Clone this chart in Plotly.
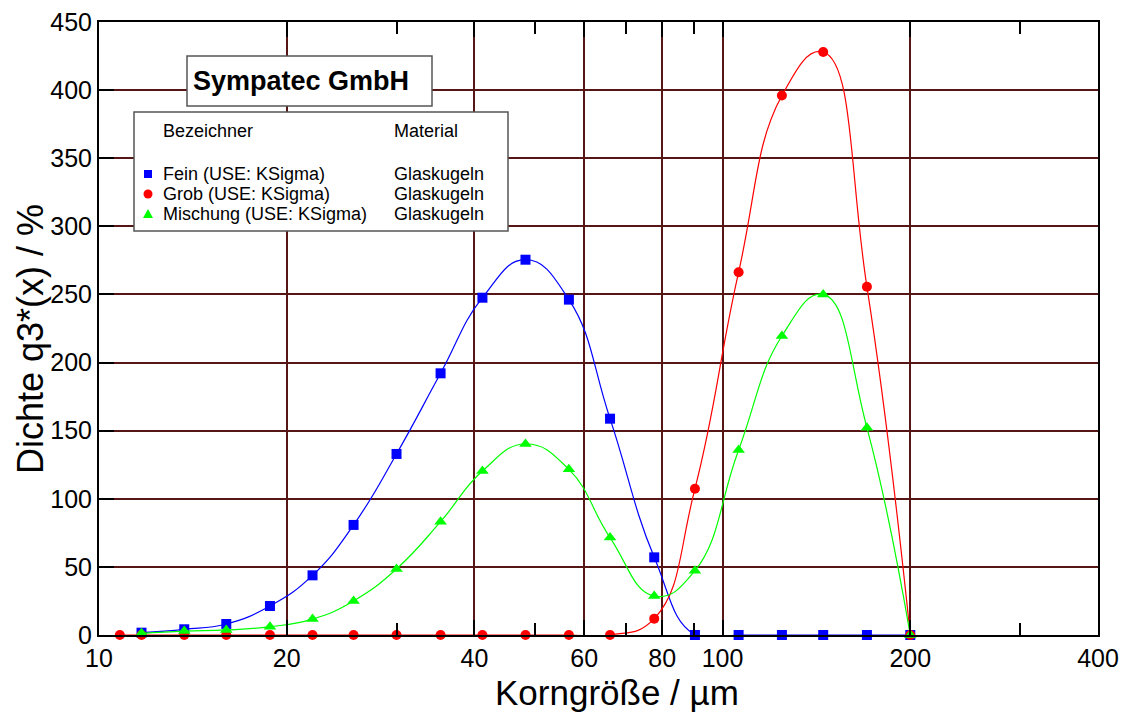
import plotly.graph_objects as go

# Particle size (µm) of the measuring points
size_um = [11.7, 13.7, 16.0, 18.8, 22.0, 25.6, 30.0, 35.3, 41.2, 48.3,
           56.7, 66.0, 77.7, 90.3, 106.1, 124.5, 145.0, 170.4, 200.0]
size_grob = [10.8, 11.7, 13.7, 16.0, 18.8, 22.0, 25.6, 30.0, 35.3, 41.2, 48.3,
             56.7, 66.0, 77.7, 90.3, 106.1, 124.5, 145.0, 170.4, 200.0]

# Density q3*(x) in %
fein = [1.7, 4.2, 8.1, 21.3, 43.8, 80.8, 132.9, 192.1, 247.6, 275.5,
        246.2, 158.8, 57.0, 0, 0, 0, 0, 0, 0]
grob = [0, 0, 0, 0, 0, 0, 0, 0, 0, 0, 0,
        0, 0, 12.0, 107.4, 266.3, 396.0, 428.0, 255.7, 0]
mischung = [1.2, 2.9, 3.7, 6.1, 11.7, 25.0, 48.5, 83.2, 120.4, 140.2,
            121.6, 71.5, 28.6, 47.2, 135.8, 219.5, 250.0, 152.2, 0]

x_tickvals = [10, 20, 40, 60, 80, 100, 200, 400]
x_ticktext = ["10", "20", "40", "60", "80", "100", "200", "400"]
x_minor = [30, 50, 70, 90, 300]
y_tickvals = [0, 50, 100, 150, 200, 250, 300, 350, 400, 450]

series_names = ["Fein (USE: KSigma)", "Grob (USE: KSigma)", "Mischung (USE: KSigma)"]
material = ["Glaskugeln", "Glaskugeln", "Glaskugeln"]

BLUE, RED, GREEN = "#0000ff", "#ff0000", "#00ff00"
GRID = "#561616"
FONT = "Liberation Sans, Arial, sans-serif"
SMOOTH = 1.3

fig = go.Figure()
fig.add_trace(go.Scatter(x=size_um, y=fein, mode="lines+markers",
                         line=dict(color=BLUE, width=1.2, shape="spline", smoothing=SMOOTH),
                         marker=dict(symbol="square", size=10, color=BLUE),
                         cliponaxis=False, showlegend=False))
fig.add_trace(go.Scatter(x=size_grob, y=grob, mode="lines+markers",
                         line=dict(color=RED, width=1.2, shape="spline", smoothing=SMOOTH),
                         marker=dict(symbol="circle", size=10, color=RED),
                         cliponaxis=False, showlegend=False))
fig.add_trace(go.Scatter(x=size_um, y=mischung, mode="lines+markers",
                         line=dict(color=GREEN, width=1.2, shape="spline", smoothing=SMOOTH),
                         marker=dict(symbol="triangle-up", size=11, color=GREEN),
                         cliponaxis=False, showlegend=False))

W, H = 1128, 717
PL, PT, PR, PB = 99, 22, 1098, 635   # plot area in page pixels
L, T = PL, PT
R = W - PR
B = H - PB
PW, PH = PR - PL, PB - PT


def px(x):
    return (x - PL) / PW


def py(y):
    return (PB - y) / PH


shapes = []
annotations = []

# Title box
shapes.append(dict(type="rect", xref="paper", yref="paper",
                   x0=px(187), x1=px(432), y0=py(106), y1=py(56),
                   fillcolor="white", line=dict(color="#555555", width=1.5), layer="above"))
annotations.append(dict(text="<b>Sympatec GmbH</b>", xref="paper", yref="paper",
                        x=px(191), y=py(81), xanchor="left", yanchor="middle",
                        showarrow=False, font=dict(family=FONT, size=27, color="black")))

# Legend box
shapes.append(dict(type="rect", xref="paper", yref="paper",
                   x0=px(134), x1=px(508), y0=py(231), y1=py(112),
                   fillcolor="white", line=dict(color="#555555", width=1.5), layer="above"))
LF = 18
annotations.append(dict(text="Bezeichner", xref="paper", yref="paper",
                        x=px(161), y=py(131), xanchor="left", yanchor="middle",
                        showarrow=False, font=dict(family=FONT, size=LF, color="black")))
annotations.append(dict(text="Material", xref="paper", yref="paper",
                        x=px(392), y=py(131), xanchor="left", yanchor="middle",
                        showarrow=False, font=dict(family=FONT, size=LF, color="black")))
rows_y = [174, 194, 214]
for name, mat, ry in zip(series_names, material, rows_y):
    annotations.append(dict(text=name, xref="paper", yref="paper",
                            x=px(161), y=py(ry), xanchor="left", yanchor="middle",
                            showarrow=False, font=dict(family=FONT, size=LF, color="black")))
    annotations.append(dict(text=mat, xref="paper", yref="paper",
                            x=px(392), y=py(ry), xanchor="left", yanchor="middle",
                            showarrow=False, font=dict(family=FONT, size=LF, color="black")))

mx = 148
shapes.append(dict(type="rect", xref="paper", yref="paper",
                   x0=px(mx - 4), x1=px(mx + 4), y0=py(rows_y[0] + 4), y1=py(rows_y[0] - 4),
                   fillcolor=BLUE, line=dict(width=0), layer="above"))
shapes.append(dict(type="circle", xref="paper", yref="paper",
                   x0=px(mx - 4.5), x1=px(mx + 4.5), y0=py(rows_y[1] + 4.5), y1=py(rows_y[1] - 4.5),
                   fillcolor=RED, line=dict(width=0), layer="above"))
ty = rows_y[2]
shapes.append(dict(type="path", xref="paper", yref="paper",
                   path=f"M {px(mx-5)},{py(ty+4)} L {px(mx+5)},{py(ty+4)} L {px(mx)},{py(ty-5)} Z",
                   fillcolor=GREEN, line=dict(width=0), layer="above"))

# Axis titles
annotations.append(dict(text="Korngröße / µm", xref="paper", yref="paper",
                        x=px(617), y=py(693), xanchor="center", yanchor="middle",
                        showarrow=False, font=dict(family=FONT, size=35, color="black")))
annotations.append(dict(text="Dichte q3*(x) / %", xref="paper", yref="paper",
                        x=px(30), y=py(339), xanchor="center", yanchor="middle", textangle=-90,
                        showarrow=False, font=dict(family=FONT, size=36, color="black")))

fig.update_layout(
    width=W, height=H,
    margin=dict(l=L, r=R, t=T, b=B, autoexpand=False),
    paper_bgcolor="white", plot_bgcolor="white",
    font=dict(family=FONT, color="black"),
    shapes=shapes, annotations=annotations,
    showlegend=False,
)
fig.update_xaxes(type="log", range=[1, 2.60206], autorange=False,
                 tickmode="array", tickvals=x_tickvals, ticktext=x_ticktext,
                 ticks="inside", ticklen=15, tickwidth=2, tickcolor="black",
                 showgrid=True, gridcolor=GRID, gridwidth=2,
                 minor=dict(tickmode="array", tickvals=x_minor, ticks="inside",
                            ticklen=12, tickwidth=2, tickcolor="black", showgrid=False),
                 showline=True, linecolor="black", linewidth=2, mirror="ticks",
                 tickfont=dict(family=FONT, size=25, color="black"),
                 zeroline=False)
fig.update_yaxes(range=[0, 450], autorange=False, tickmode="array", tickvals=y_tickvals,
                 ticks="inside", ticklen=15, tickwidth=2, tickcolor="black",
                 showgrid=True, gridcolor=GRID, gridwidth=2,
                 showline=True, linecolor="black", linewidth=2, mirror=True,
                 tickfont=dict(family=FONT, size=25, color="black"),
                 ticklabeloverflow="allow",
                 zeroline=False)

fig.write_html("out.html", config={"displayModeBar": False},
               post_script="document.body.style.margin='0';document.body.style.overflow='hidden';")
